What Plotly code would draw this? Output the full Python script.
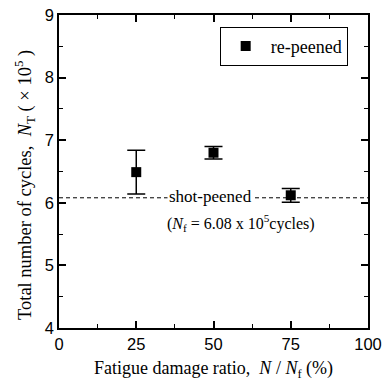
import plotly.graph_objects as go

ratio = [25, 50, 75]
cycles = [6.49, 6.80, 6.12]
err = [0.35, 0.10, 0.11]
shot_peened = 6.08

serif = "Liberation Serif"
sans = "Liberation Sans"

W, H = 382, 385
ML, MR, MT, MB = 59, 14, 15, 57
pw, ph = W - ML - MR, H - MT - MB

fig = go.Figure()
fig.add_trace(go.Scatter(
    x=ratio, y=cycles, mode="markers", name="re-peened",
    marker=dict(symbol="square", size=10, color="black"),
    error_y=dict(type="data", array=err, color="black", thickness=1.5, width=9),
))
fig.add_shape(type="line", x0=0, x1=100, y0=shot_peened, y1=shot_peened,
              xref="x", yref="y", line=dict(color="black", width=1, dash="4px,3px"))
fig.add_annotation(x=49, y=shot_peened + 0.02, text="shot-peened", showarrow=False,
                   font=dict(family=serif, size=17, color="black"), bgcolor="white",
                   xref="x", yref="y")
fig.add_annotation(x=59, y=5.68,
                   text="(<i>N</i><sub>f</sub> = 6.08 x 10<sup>5</sup>cycles)",
                   showarrow=False, font=dict(family=serif, size=16, color="black"),
                   xref="x", yref="y")
fig.add_annotation(x=(25 - ML) / pw, y=(H - MB - 185) / ph, xref="paper", yref="paper",
                   xanchor="center", yanchor="middle", showarrow=False,
                   text="Total number of cycles,  <i>N</i><sub>T</sub> ( × 10<sup>5</sup> )",
                   textangle=-90, font=dict(family=serif, size=18.5, color="black"))

axis_common = dict(showline=True, linecolor="black", linewidth=1.5, mirror="ticks",
                   ticks="inside", ticklen=7, tickwidth=1.5, tickcolor="black",
                   showgrid=False, zeroline=False,
                   tickfont=dict(family=sans, size=16.5, color="black"))
fig.update_xaxes(range=[0, 100], tickvals=[0, 25, 50, 75, 100],
                 minor=dict(tickvals=[12.5, 37.5, 62.5, 87.5], ticks="inside", ticklen=4,
                            tickwidth=1, tickcolor="black"),
                 title=dict(text="Fatigue damage ratio,  <i>N</i> / <i>N</i><sub>f</sub> (%)",
                            font=dict(family=serif, size=18, color="black"), standoff=10),
                 ticklabeloverflow="allow", automargin=False,
                 **axis_common)
fig.update_yaxes(range=[4, 9], tickvals=[4, 5, 6, 7, 8, 9],
                 minor=dict(tickvals=[4.5, 5.5, 6.5, 7.5, 8.5], ticks="inside", ticklen=4,
                            tickwidth=1, tickcolor="black"),
                 automargin=False,
                 **axis_common)
fig.update_layout(
    width=W, height=H, margin=dict(l=ML, r=MR, t=MT, b=MB, autoexpand=False),
    plot_bgcolor="white", paper_bgcolor="white",
    showlegend=True,
    legend=dict(x=0.52, y=0.962, xanchor="left", yanchor="top", itemwidth=40,
                bordercolor="black", borderwidth=1, bgcolor="white",
                font=dict(family=serif, size=18, color="black")),
)
fig.write_html("out.html")
